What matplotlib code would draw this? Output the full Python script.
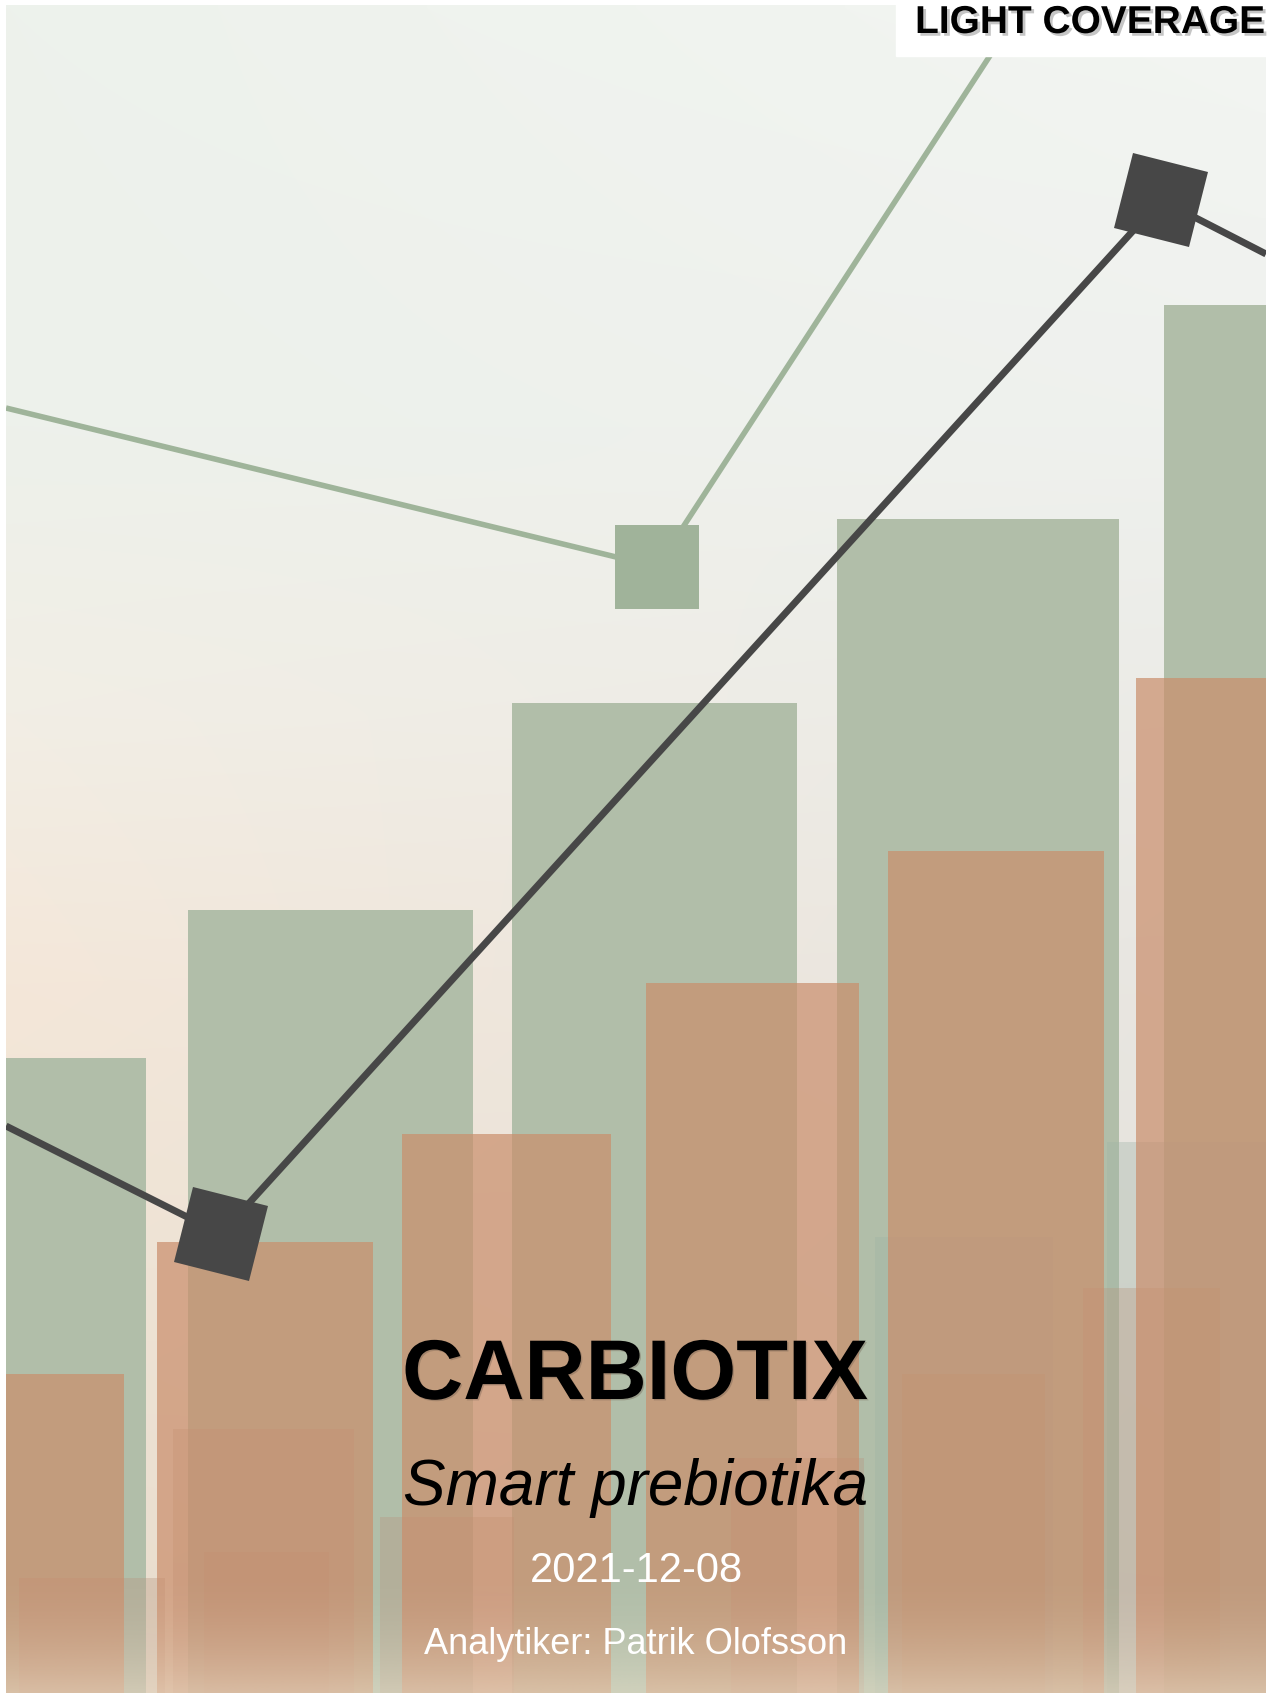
import numpy as np
import matplotlib
matplotlib.use('Agg')
import matplotlib.pyplot as plt
from matplotlib.markers import MarkerStyle
from matplotlib.transforms import Affine2D
from matplotlib import patheffects as pe
from matplotlib import font_manager
from matplotlib.colors import to_rgb

W, H = 1274, 1693

# back row of green bars (height from bottom edge)
green_left = [6, 188, 512, 837, 1164]
green_width = [140, 285, 285, 282, 110]
green_height = [635, 783, 990, 1174, 1388]

# front row of orange bars
orange_left = [6, 157, 402, 646, 888, 1136]
orange_width = [118, 216, 209, 213, 216, 140]
orange_height = [319, 451, 559, 710, 842, 1015]

# faint bars near the bottom
faded_left = [1107, 875, 1083, 902, 173, 204, 19, 380, 731]
faded_width = [159, 178, 137, 143, 181, 125, 146, 134, 133]
faded_height = [551, 456, 405, 319, 264, 141, 115, 176, 235]
faded_kind = ['g', 'g', 'o', 'o', 'o', 'o', 'o', 'o', 'o']

# lines
dark_x = [6, 221, 1161, 1266]
dark_y = [567, 459, 1493, 1439]
sage_x = [6, 657, 1023]
sage_y = [1285, 1126, 1688]

title = 'CARBIOTIX'
subtitle = 'Smart prebiotika'
date = '2021-12-08'
analyst = 'Analytiker: Patrik Olofsson'
tag = 'LIGHT COVERAGE'

names = {f.name for f in font_manager.fontManager.ttflist}
narrow = 'Liberation Sans Narrow' in names

fig = plt.figure(figsize=(W / 100, H / 100), dpi=100, facecolor='white')
ax = fig.add_axes([6 / W, 0, 1260 / W, 1688 / H])
ax.set_xlim(6, 1266)
ax.set_ylim(0, 1688)
ax.axis('off')

# background gradient
fy = np.array([0.0, 0.25, 0.42, 0.58, 1.0])
left_c = np.array([to_rgb(c) for c in ['#edf2ec', '#edf1eb', '#f2eee5', '#f4e7d9', '#e9ddcc']])
right_c = np.array([to_rgb(c) for c in ['#f3f5f2', '#eff1ee', '#ebebe7', '#e7e6e2', '#e2dfd8']])
ny, nx = 300, 200
t = np.linspace(0, 1, ny)
lc = np.stack([np.interp(t, fy, left_c[:, k]) for k in range(3)], axis=1)
rc = np.stack([np.interp(t, fy, right_c[:, k]) for k in range(3)], axis=1)
s = np.linspace(0, 1, nx)[None, :, None]
grad = lc[:, None, :] * (1 - s) + rc[:, None, :] * s
ax.imshow(grad, extent=(6, 1266, 0, 1688), aspect='auto', zorder=0, interpolation='bilinear')

ax.bar(green_left, green_height, width=green_width, align='edge',
       color='#b1bea9', zorder=1)

for l, w, h, k in zip(faded_left, faded_width, faded_height, faded_kind):
    c = '#9fb3a6' if k == 'g' else '#b8957e'
    ax.bar(l, h, width=w, align='edge', color=c, alpha=0.35, zorder=2)

ax.bar(orange_left, orange_height, width=orange_width, align='edge',
       color='#ca8e6c', alpha=0.71, zorder=3)

# bottom fade (transparent at top, light beige at the bottom edge)
fade = np.zeros((100, 2, 4))
fade[..., :3] = to_rgb('#efe4cf')
fade[..., 3] = np.linspace(0, 1, 100)[:, None] ** 2 * 0.5
ax.imshow(fade, extent=(6, 1266, 0, 130), aspect='auto', zorder=4, interpolation='bilinear')

ax.plot(sage_x, sage_y, color='#9fb49a', lw=4, zorder=5, solid_capstyle='butt')
ax.plot(sage_x[1], sage_y[1], marker='s', ms=60, color='#a0b39a', mew=0, zorder=5)

dm = MarkerStyle('s', transform=Affine2D().rotate_deg(-14))
ax.plot(dark_x, dark_y, color='#474747', lw=5, zorder=6, solid_capstyle='butt')
ax.plot(dark_x[1:3], dark_y[1:3], ls='none', marker=dm, ms=56, color='#474747', mew=0, zorder=6)

# tag box top right
fig.patches.append(plt.Rectangle((896 / W, 1 - 56 / H), 378 / W, 56 / H,
                                 transform=fig.transFigure, color='white', zorder=10))
fig.text(1090 / W, 1 - 23 / H, tag, ha='center', va='center', fontsize=28,
         fontweight='bold', family='Liberation Sans', color='black', zorder=11,
         path_effects=[pe.withSimplePatchShadow(offset=(2, -2), shadow_rgbFace='gray', alpha=0.45)])

fig.text(635 / W, 1 - 1377 / H, title, ha='center', va='center', fontsize=61,
         fontweight='bold', family='Liberation Sans', color='black', zorder=11,
         path_effects=[pe.withSimplePatchShadow(offset=(1, -1), shadow_rgbFace='#6b5a4c', alpha=0.35)])
fig.text(636 / W, 1 - 1488 / H, subtitle, ha='center', va='center', fontsize=46,
         style='italic', family='Liberation Sans', color='black', zorder=11)
fig.text(636 / W, 1 - 1571 / H, date, ha='center', va='center', fontsize=30,
         family='Liberation Sans', color='white', zorder=11)
if narrow:
    fig.text(636 / W, 1 - 1645 / H, analyst, ha='center', va='center', fontsize=31,
             family='Liberation Sans Narrow', color='white', zorder=11)
else:
    fig.text(636 / W, 1 - 1645 / H, analyst, ha='center', va='center', fontsize=26,
             family='Liberation Sans', color='white', zorder=11)

fig.savefig('out.png', dpi=100, facecolor='white')
